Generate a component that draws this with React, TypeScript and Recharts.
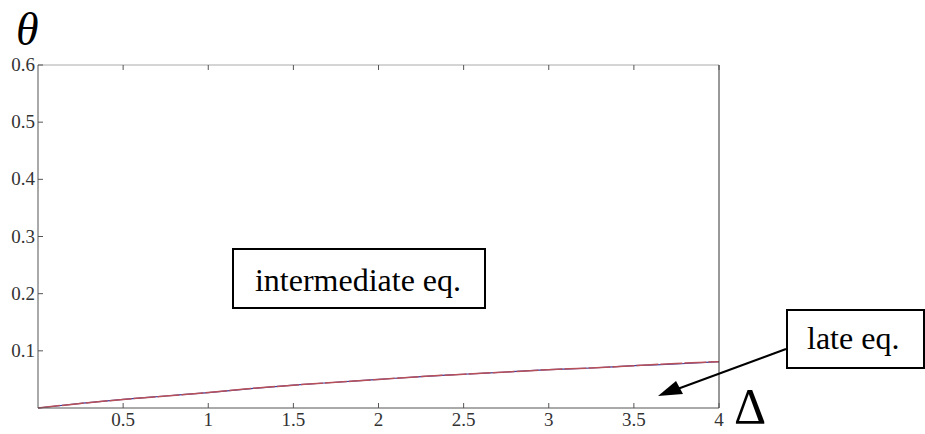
import { LineChart, Line, XAxis, YAxis } from 'recharts';

// Delta values (x) and theta
const deltas = [0, 0.25, 0.5, 0.75, 1, 1.25, 1.5, 1.75, 2, 2.25, 2.5, 2.75, 3, 3.25, 3.5, 3.75, 4];
const thetaBlue = [0, 0.008, 0.015, 0.021, 0.027, 0.034, 0.040, 0.045, 0.050, 0.055, 0.059, 0.063, 0.067, 0.070, 0.074, 0.077, 0.081];
const thetaRed = [0, 0.008, 0.015, 0.021, 0.027, 0.034, 0.040, 0.045, 0.050, 0.055, 0.059, 0.063, 0.067, 0.070, 0.074, 0.078, 0.081];

const xTicks = [0.5, 1, 1.5, 2, 2.5, 3, 3.5, 4];
const yTicks = [0.1, 0.2, 0.3, 0.4, 0.5, 0.6];

const data = deltas.map((d, i) => ({ delta: d, blue: thetaBlue[i], red: thetaRed[i] }));

const W = 925;
const H = 434;
const FONT = 'Liberation Serif';
const TICK = 5;

const bottomTick = ({ x, y, payload }: any) => (
  <g key={`b${payload.value}`}>
    <line x1={x} x2={x} y1={y} y2={y - TICK} stroke="#555" />
    <text x={x} y={y + 18} textAnchor="middle" style={{ fontFamily: FONT, fontSize: 19 }} fill="#333">
      {payload.value}
    </text>
  </g>
);

const topTick = ({ x, y, payload }: any) => (
  <line key={`t${payload.value}`} x1={x} x2={x} y1={y} y2={y + TICK} stroke="#555" />
);

const leftTick = ({ x, y, payload }: any) => (
  <g key={`l${payload.value}`}>
    <line x1={x} x2={x + TICK} y1={y} y2={y} stroke="#555" />
    <text x={x - 3} y={y + 6} textAnchor="end" style={{ fontFamily: FONT, fontSize: 19 }} fill="#333">
      {payload.value}
    </text>
  </g>
);

const rightTick = ({ x, y, payload }: any) => (
  <line key={`r${payload.value}`} x1={x} x2={x - TICK} y1={y} y2={y} stroke="#999" />
);

export default function App() {
  return (
    <div style={{ position: 'absolute', left: 0, top: 0, width: W, height: H, background: '#fff' }}>
      <LineChart width={W} height={H} data={data} margin={{ top: 0, right: 0, bottom: 0, left: 0 }}>
        <XAxis
          xAxisId="b"
          dataKey="delta"
          type="number"
          domain={[0, 4]}
          ticks={xTicks}
          tickSize={0}
          tickMargin={0}
          tickLine={false}
          height={26}
          axisLine={{ stroke: '#555' }}
          tick={bottomTick}
          interval={0}
        />
        <XAxis
          xAxisId="t"
          orientation="top"
          dataKey="delta"
          type="number"
          domain={[0, 4]}
          ticks={xTicks}
          tickSize={0}
          tickMargin={0}
          tickLine={false}
          height={65}
          axisLine={{ stroke: '#aaa' }}
          tick={topTick}
          interval={0}
        />
        <YAxis
          yAxisId="l"
          type="number"
          domain={[0, 0.6]}
          ticks={yTicks}
          tickSize={0}
          tickMargin={0}
          tickLine={false}
          width={38}
          axisLine={{ stroke: '#555' }}
          tick={leftTick}
          interval={0}
        />
        <YAxis
          yAxisId="r"
          orientation="right"
          type="number"
          domain={[0, 0.6]}
          ticks={yTicks}
          tickSize={0}
          tickMargin={0}
          tickLine={false}
          width={206}
          axisLine={{ stroke: '#333' }}
          tick={rightTick}
          interval={0}
        />
        <Line
          xAxisId="b"
          yAxisId="l"
          dataKey="blue"
          type="monotone"
          stroke="#3b3b9e"
          strokeWidth={1.2}
          dot={false}
          isAnimationActive={false}
        />
        <Line
          xAxisId="b"
          yAxisId="l"
          dataKey="red"
          type="monotone"
          stroke="#b8505a"
          strokeWidth={1.5}
          strokeDasharray="22 2"
          dot={false}
          isAnimationActive={false}
        />
      </LineChart>
      <svg width={W} height={H} style={{ position: 'absolute', left: 0, top: 0, pointerEvents: 'none' }}>
        <text x={16} y={45} style={{ fontFamily: FONT, fontStyle: 'italic', fontSize: 46 }} fill="#000">
          θ
        </text>
        <text x={734} y={423} style={{ fontFamily: FONT, fontSize: 50 }} fill="#000">
          Δ
        </text>
        <rect x={233} y={249} width={252} height={59} fill="#fff" stroke="#000" strokeWidth={2} />
        <text x={358} y={291} textAnchor="middle" style={{ fontFamily: FONT, fontSize: 32 }} fill="#000">
          intermediate eq.
        </text>
        <rect x={787} y={310} width={137} height={58} fill="#fff" stroke="#000" strokeWidth={2} />
        <text x={807} y={349} style={{ fontFamily: FONT, fontSize: 32 }} fill="#000">
          late eq.
        </text>
        <line x1={786} y1={349} x2={672} y2={391} stroke="#000" strokeWidth={2} />
        <polygon points="658,396 676,381 683,394" fill="#000" />
      </svg>
    </div>
  );
}
